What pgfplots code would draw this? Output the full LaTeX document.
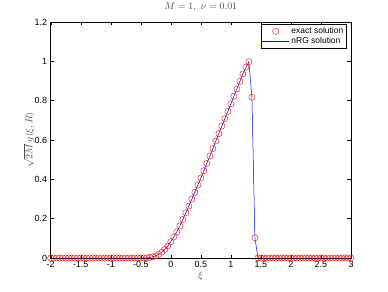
\documentclass[border=0pt]{standalone}
\usepackage{fontspec}
\setmainfont{Liberation Sans}
\usepackage{pgfplots}
\usepackage{pgfplotstable}
\pgfplotsset{compat=1.18}
\pgfplotsset{
  legmark/.style={legend image code/.code={\draw[mark repeat=2,mark phase=2,##1] plot coordinates {(0bp,0bp) (13.5bp,0bp) (27bp,0bp)};}},
  legline/.style={legend image code/.code={\draw[blue, line width=0.5pt] (0bp,0bp) -- (27bp,0bp);}},
}
\pgfplotstableread{
x y
-2.00 0
-1.95 0
-1.90 0
-1.85 0
-1.80 0
-1.75 0
-1.70 0
-1.65 0
-1.60 0
-1.55 0
-1.50 0
-1.45 0
-1.40 0
-1.35 0
-1.30 0
-1.25 0
-1.20 0
-1.15 0
-1.10 0
-1.05 0
-1.00 0
-0.95 0
-0.90 0
-0.85 0
-0.80 0
-0.75 0
-0.70 0
-0.65 0
-0.60 0
-0.55 0
-0.50 0
-0.45 0.0005
-0.40 0.001
-0.35 0.003
-0.30 0.006
-0.25 0.011
-0.20 0.019
-0.15 0.030
-0.10 0.044
-0.05 0.061
0.00 0.083
0.05 0.107
0.10 0.133
0.15 0.163
0.20 0.196
0.25 0.230
0.30 0.264
0.35 0.299
0.40 0.334
0.45 0.371
0.50 0.407
0.55 0.444
0.60 0.481
0.65 0.519
0.70 0.556
0.75 0.595
0.80 0.633
0.85 0.671
0.90 0.709
0.95 0.746
1.00 0.784
1.05 0.822
1.10 0.860
1.15 0.898
1.20 0.936
1.25 0.970
1.30 0.998
1.35 0.817
1.40 0.103
1.45 0.001
1.50 0
1.55 0
1.60 0
1.65 0
1.70 0
1.75 0
1.80 0
1.85 0
1.90 0
1.95 0
2.00 0
2.05 0
2.10 0
2.15 0
2.20 0
2.25 0
2.30 0
2.35 0
2.40 0
2.45 0
2.50 0
2.55 0
2.60 0
2.65 0
2.70 0
2.75 0
2.80 0
2.85 0
2.90 0
2.95 0
3.00 0
}\solution
\begin{document}
\begin{tikzpicture}
\useasboundingbox (-50.7bp,-34bp) rectangle (337.3bp,258bp);
\begin{axis}[
  scale only axis,
  width=300.3bp, height=236bp,
  at={(0,0)}, anchor=south west,
  xmin=-2, xmax=3, ymin=0, ymax=1.2,
  xtick={-2,-1.5,...,3},
  ytick={0,0.2,...,1.2},
  tick align=inside,
  major tick length=3.5bp,
  tick style={black, line width=0.4pt},
  axis line style={black, line width=0.5pt},
  /pgf/number format/assume math mode=true,
  tick label style={font=\fontsize{9}{10}\selectfont},
  title={$M=1,\ \nu=0.01$},
  title style={font=\fontsize{10}{11}\selectfont, text=black!70, at={(axis description cs:0.5,1.038)}, anchor=center},
  xlabel={$\xi$},
  xlabel style={font=\fontsize{10}{11}\selectfont, text=black!70, at={(axis description cs:0.5,-0.076)}, anchor=center},
  ylabel={$\sqrt{2M}\,g(\xi,R)$},
  ylabel style={font=\fontsize{10}{11}\selectfont, text=black!70, at={(axis description cs:-0.072,0.5)}, anchor=center},
  legend style={at={(rel axis cs:0.985,0.99)}, anchor=north east,
    font=\fontsize{8.5}{10}\selectfont, draw=black, line width=0.5pt,
    inner sep=1pt, row sep=-1.5pt, cells={anchor=west}},
  legend cell align=left,
]
\addplot[only marks, mark=o, mark size=3.1bp, color=red, mark options={line width=0.4pt}, legmark]
  table[x=x,y=y]{\solution};
\addlegendentry{exact solution}
\addplot[color=blue, line width=0.5pt, mark=none, legline]
  table[x=x,y=y]{\solution};
\addlegendentry{nRG solution}
\end{axis}
\end{tikzpicture}
\end{document}
